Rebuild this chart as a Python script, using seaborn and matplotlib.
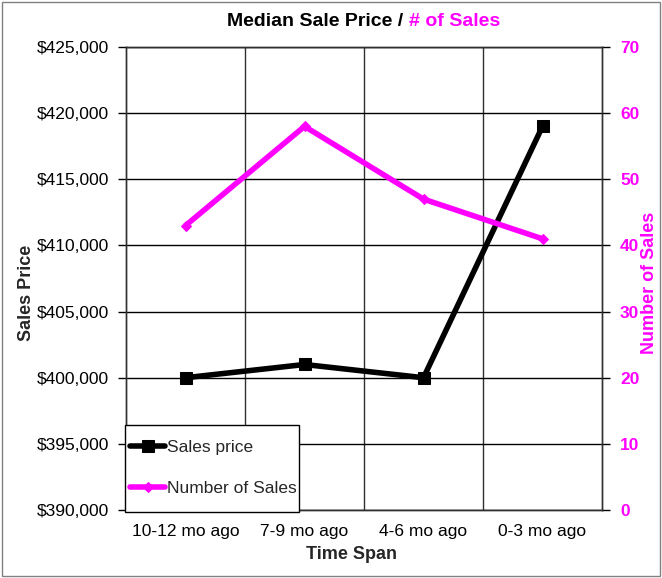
import pandas as pd
import numpy as np
import matplotlib
matplotlib.use("Agg")
import matplotlib.pyplot as plt
import matplotlib.ticker as mticker
from matplotlib.patches import Rectangle
import seaborn as sns

# dati
spans = ["10-12 mo ago", "7-9 mo ago", "4-6 mo ago", "0-3 mo ago"]
sales_price = [400000, 401000, 400000, 419000]
num_sales = [43, 58, 47, 41]

MAGENTA = "#FF00FF"

sns.set_style("white")
plt.rcParams["font.family"] = ["Liberation Sans", "DejaVu Sans"]

df = pd.DataFrame({"span": spans, "price": sales_price, "sales": num_sales})

W, H = 662, 578
fig = plt.figure(figsize=(W / 100, H / 100), dpi=100)
ax = fig.add_axes([126 / W, 1 - 510 / H, (602 - 126) / W, (510 - 47) / H])
ax2 = ax.twinx()

# linee principali
sns.lineplot(data=df, x="span", y="price", ax=ax, color="black", lw=4,
             marker="s", markersize=8, markeredgecolor="black", legend=False, zorder=5)
sns.lineplot(data=df, x="span", y="sales", ax=ax2, color=MAGENTA, lw=4,
             marker="D", markersize=5, markeredgecolor=MAGENTA, legend=False, zorder=5)

# asse sinistro (prezzo)
ax.set_xlim(-0.5, 3.5)
ax.set_ylim(390000, 425000)
ax.yaxis.set_major_locator(mticker.MultipleLocator(5000))
ax.yaxis.set_major_formatter(mticker.StrMethodFormatter("${x:,.0f}"))
ax.grid(axis="y", color="black", lw=1)
ax.set_axisbelow(True)

# griglia verticale tra le categorie
ax.xaxis.set_major_locator(mticker.FixedLocator(range(len(spans))))
ax.set_xticklabels(spans)
ax.xaxis.set_minor_locator(mticker.FixedLocator(np.arange(-0.5, len(spans), 1.0)))
for xb in np.arange(0.5, len(spans) - 1, 1.0):
    ax.axvline(xb, color="#303030", lw=1, zorder=0)
ax.tick_params(axis="x", which="major", length=0, pad=10, labelsize=12.5, colors="black")
ax.tick_params(axis="x", which="minor", length=5, width=1, color="#555555", direction="out")
ax.tick_params(axis="y", length=6, width=1, direction="out", left=True, pad=6,
               labelsize=12.5, colors="black")

# asse destro (numero vendite)
ax2.set_ylim(0, 70)
ax2.yaxis.set_major_locator(mticker.MultipleLocator(10))
ax2.tick_params(axis="y", length=6, width=1, direction="out", right=True, pad=7,
                labelsize=12.5, labelcolor=MAGENTA, color="black")
for lab in ax2.get_yticklabels():
    lab.set_fontweight("bold")

for a in (ax, ax2):
    for s in a.spines.values():
        s.set_color("#303030")
        s.set_linewidth(1)

# etichette degli assi
ax.set_xlabel("Time Span", fontsize=13, fontweight="bold")
ax.xaxis.set_label_coords(0.474, -0.078)
ax.set_ylabel("Sales Price", fontsize=13, fontweight="bold")
ax.yaxis.set_label_coords(-0.192, 0.47)
ax2.set_ylabel("Number of Sales", fontsize=13, fontweight="bold", color=MAGENTA,
               rotation=90)
ax2.yaxis.set_label_coords(1.082, 0.49)

# titolo in due colori
fig.text(403 / W, 1 - 21 / H, "Median Sale Price /", ha="right", va="center",
         fontsize=14, fontweight="bold", color="black")
fig.text(409 / W, 1 - 21 / H, "# of Sales", ha="left", va="center",
         fontsize=14, fontweight="bold", color=MAGENTA)

# riquadro della legenda (bianco, bordo nero)
fig.patches.append(Rectangle((125 / W, 1 - 512 / H), (299 - 125) / W, (512 - 425) / H,
                             transform=fig.transFigure, facecolor="white",
                             edgecolor="black", lw=1, zorder=3))

# legenda
h1 = ax.lines[0]
h2 = ax2.lines[0]
leg = fig.legend([h1, h2], ["Sales price", "Number of Sales"], loc="center left",
                 bbox_to_anchor=(127 / W, 1 - 468 / H), fontsize=12.5,
                 frameon=False, labelspacing=1.47, handlelength=2.0,
                 handletextpad=0.1, borderpad=0.2, borderaxespad=0)
leg.set_zorder(4)

# cornice esterna
fig.patches.append(Rectangle((2 / W, 2 / H), 1 - 4 / W, 1 - 4 / H, transform=fig.transFigure,
                             fill=False, edgecolor="#808080", lw=1))

fig.savefig("out.png", dpi=100)
